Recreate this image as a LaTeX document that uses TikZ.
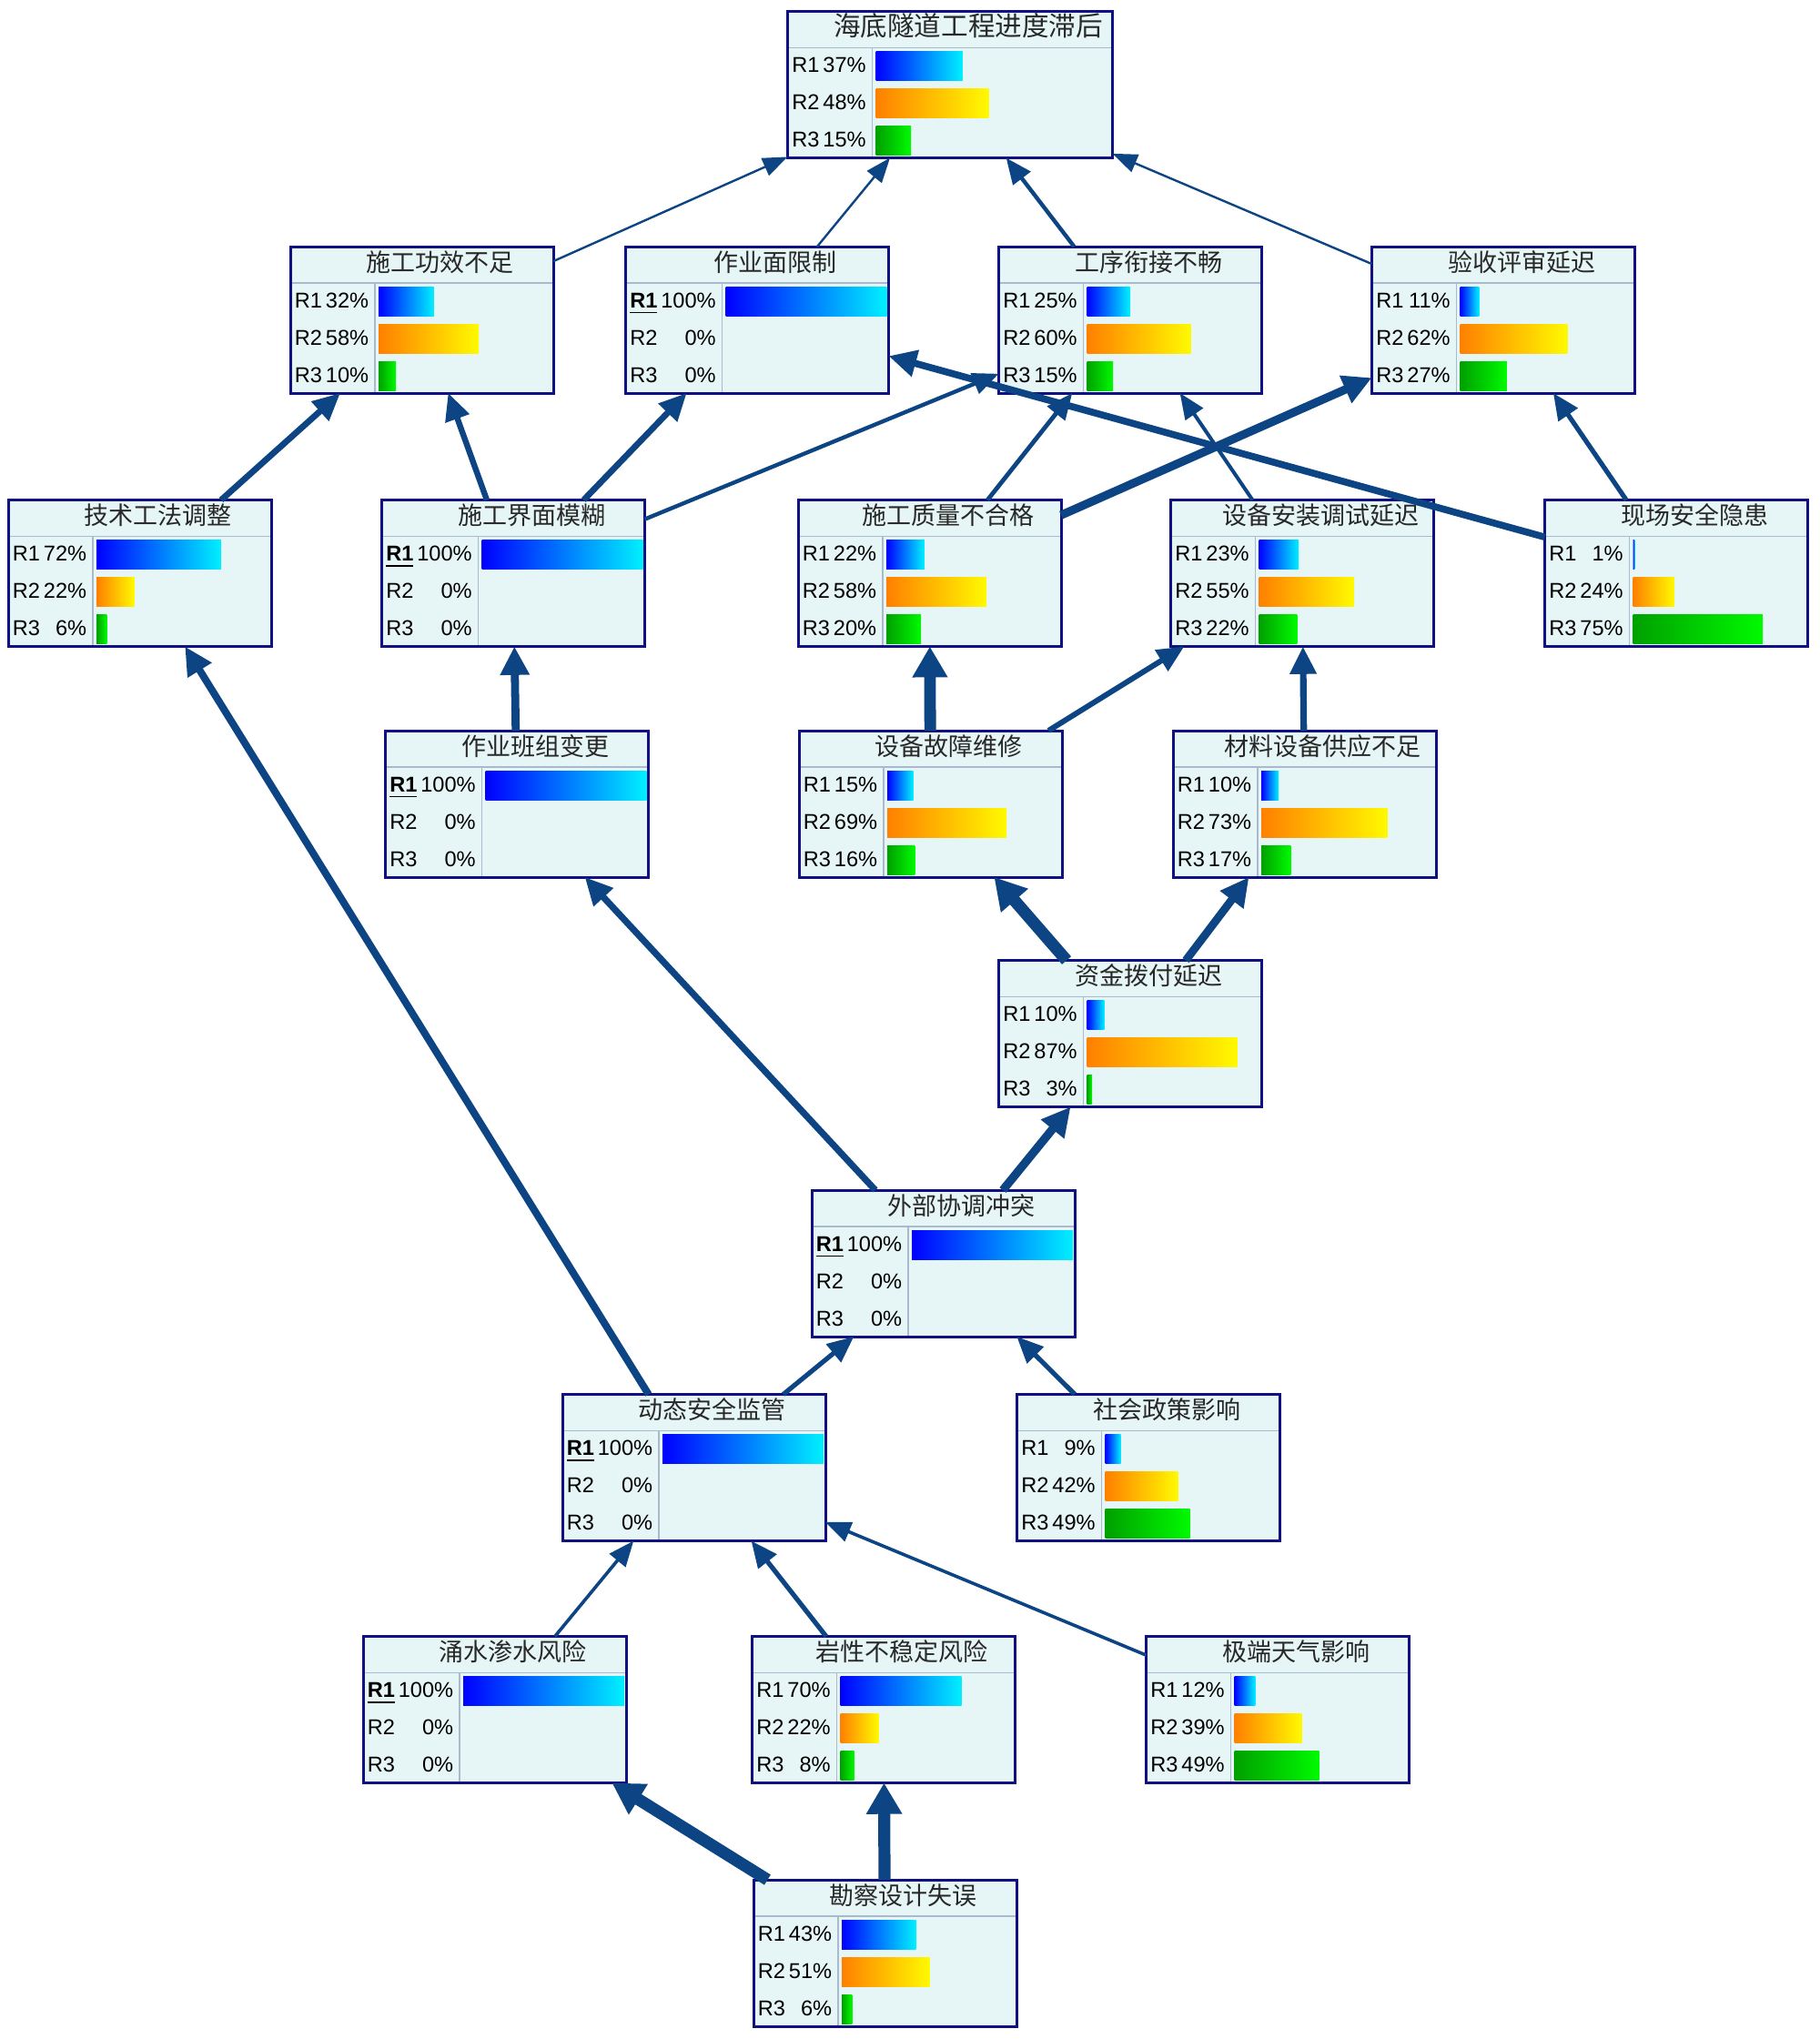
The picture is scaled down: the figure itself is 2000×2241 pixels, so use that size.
\documentclass[tikz,border=0pt]{standalone}
\usepackage{fontspec}
\setmainfont{Liberation Sans}
\newfontfamily\cjkfont{Noto Sans CJK SC}
\usetikzlibrary{arrows.meta}

\definecolor{bnfill}{RGB}{230,245,245}
\definecolor{bnline}{RGB}{16,16,130}
\definecolor{sepgray}{RGB}{170,185,205}
\definecolor{edgeblue}{RGB}{12,68,132}
\definecolor{titlegray}{RGB}{40,40,40}

\tikzset{
  bnbox/.style={rectangle, draw=bnline, line width=0.75pt, fill=bnfill,
    minimum height=40.25pt, inner sep=0pt, outer sep=0pt},
  bntitle/.style={inner sep=0pt, text=titlegray, font=\cjkfont\fontsize{6.75}{8}\selectfont},
  bnrow/.style={inner sep=0pt, font=\fontsize{5.9}{7}\selectfont},
  bnsep/.style={draw=sepgray, line width=0.3pt},
  bar1/.style={left color={rgb,255:red,0;green,0;blue,255}, right color={rgb,255:red,0;green,240;blue,255}},
  bar2/.style={left color={rgb,255:red,255;green,128;blue,0}, right color={rgb,255:red,255;green,250;blue,0}},
  bar3/.style={left color={rgb,255:red,0;green,160;blue,0}, right color={rgb,255:red,0;green,250;blue,0}},
  bnedge/.style={draw=edgeblue, -{Triangle[length=6.4pt 0.65, width=4.2pt 1.55]}}
}

% belief node: [width]{name}{x}{y}{title}{R1}{R2}{R3}
\newcommand{\bnnode}[8][289]{%
  \node[bnbox, minimum width={#1*0.25pt}] (#2) at (#3,#4) {};
  \begin{scope}[shift={(#2.north west)}]
    \ifnum#6=100 \def\colw{106}\else\def\colw{93}\fi
    \node[bntitle, anchor=base] at ({#1/2+20},27) {\ifnum#1>289 \fontsize{7.4}{9}\selectfont\fi #5};
    \draw[bnsep] (1.5,40) -- (#1-1.5,40);
    \draw[bnsep] (\colw,40) -- (\colw,159.5);
    \foreach \pct [count=\row] in {#6,#7,#8} {
      \pgfmathsetmacro\rowy{67+41*(\row-1)}
      \node[bnrow, anchor=base west] at (4,\rowy) {\ifnum\pct=100 \textbf{\underline{R\row}}\else R\row\fi};
      \node[bnrow, anchor=base east] at (\colw-6,\rowy) {\pct\%};
      \ifnum\pct>0
        \shade[bar\row] (\colw+4,\rowy-23) rectangle ++({\pct/100*(#1-\colw-6)},32);
      \fi
    }
  \end{scope}
}

\begin{document}
\begin{tikzpicture}[x=0.25pt, y=-0.25pt]
  \path[fill=white, use as bounding box] (0,0) rectangle (2000,2241);

  \bnnode[357]{hdsd}{1044}{93}{海底隧道工程进度滞后}{37}{48}{15}
  \bnnode{sggx}{463.5}{351.5}{施工功效不足}{32}{58}{10}
  \bnnode{zymx}{832}{351.5}{作业面限制}{100}{0}{0}
  \bnnode{gxxj}{1242}{351.5}{工序衔接不畅}{25}{60}{15}
  \bnnode{ysps}{1652}{351.5}{验收评审延迟}{11}{62}{27}
  \bnnode{jsgf}{153.5}{630}{技术工法调整}{72}{22}{6}
  \bnnode{sgjm}{564}{630}{施工界面模糊}{100}{0}{0}
  \bnnode{sgzl}{1021.5}{630}{施工质量不合格}{22}{58}{20}
  \bnnode{sbaz}{1431}{630}{设备安装调试延迟}{23}{55}{22}
  \bnnode{xcaq}{1842}{630}{现场安全隐患}{1}{24}{75}
  \bnnode{zybz}{568}{883.5}{作业班组变更}{100}{0}{0}
  \bnnode{sbgz}{1022.5}{883.5}{设备故障维修}{15}{69}{16}
  \bnnode{clsb}{1433.5}{883.5}{材料设备供应不足}{10}{73}{17}
  \bnnode{zjbf}{1242}{1136}{资金拨付延迟}{10}{87}{3}
  \bnnode{wbxt}{1036.5}{1388.5}{外部协调冲突}{100}{0}{0}
  \bnnode{dtaq}{762.5}{1613}{动态安全监管}{100}{0}{0}
  \bnnode{shzc}{1262}{1613}{社会政策影响}{9}{42}{49}
  \bnnode{yssf}{543.5}{1879}{涌水渗水风险}{100}{0}{0}
  \bnnode{yxbw}{971}{1879}{岩性不稳定风险}{70}{22}{8}
  \bnnode{jdtq}{1404}{1879}{极端天气影响}{12}{39}{49}
  \bnnode{kcsj}{972.5}{2146.5}{勘察设计失误}{43}{51}{6}

  \foreach \a/\b/\w in {sggx/hdsd/0.6, zymx/hdsd/0.6, gxxj/hdsd/1.1, ysps/hdsd/0.6,
      jsgf/sggx/1.7, sgjm/sggx/1.6, sgjm/zymx/1.7, sgjm/gxxj/1.1, xcaq/zymx/1.9,
      sgzl/gxxj/1.2, sgzl/ysps/2.3, sbaz/gxxj/1.0, xcaq/ysps/1.3, zybz/sgjm/2.2,
      sbgz/sgzl/3.2, sbgz/sbaz/1.5, clsb/sbaz/1.8, zjbf/sbgz/3.3, zjbf/clsb/2.2,
      wbxt/zybz/1.8, wbxt/zjbf/2.3, dtaq/jsgf/2.0, dtaq/wbxt/1.3, shzc/wbxt/1.3,
      yssf/dtaq/0.9, yxbw/dtaq/1.3, jdtq/dtaq/0.9, kcsj/yssf/3.3, kcsj/yxbw/3.3} {
    \draw[bnedge, line width=\w pt] (\a) -- (\b);
  }
\end{tikzpicture}
\end{document}
